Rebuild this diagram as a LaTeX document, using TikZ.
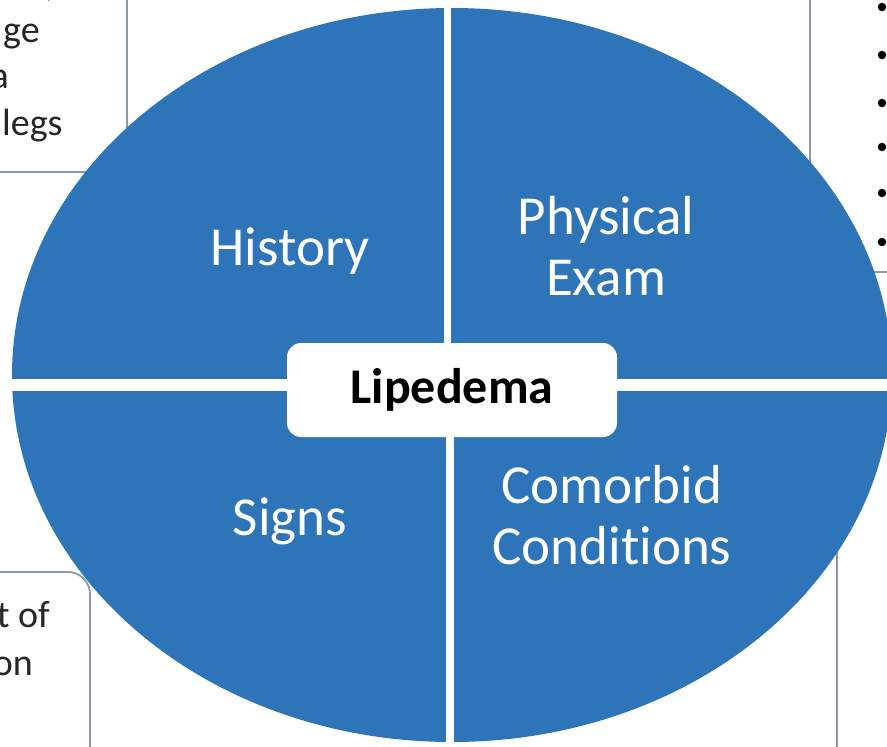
\documentclass[tikz,border=0pt]{standalone}
\usepackage{fontspec}
\setmainfont{Carlito}[Ligatures=CommonOff]
\usetikzlibrary{positioning}
\usetikzlibrary{shapes.geometric}
\definecolor{ovalblue}{RGB}{46,116,184}
\definecolor{boxgray}{RGB}{140,152,170}
\definecolor{sidegray}{RGB}{38,38,38}

\begin{document}
\begin{tikzpicture}[x=1pt, y=-1pt,
		sidebox/.style={draw=boxgray, line width=1.8pt, fill=white},
		sidetext/.style={text=sidegray, font=\fontsize{38}{46}\selectfont, inner sep=0pt, anchor=base west},
		part/.style={text=white, font=\fontsize{55}{61}\selectfont, align=center, inner sep=0pt}]
	\useasboundingbox (0,0) rectangle (887,747);

	% boxes behind the oval
	\draw[sidebox] (-60,-60) rectangle (127,172);
	\draw[sidebox, rounded corners=22pt] (-60,572) rectangle (90,820);
	\draw[sidebox] (810,-60) rectangle (960,272);
	\draw[sidebox] (837,400) rectangle (960,820);

	\node[sidetext] (tla) at (45,-4) {,};
	\node[sidetext] (tlb) at (3,42) {ge};
	\node[sidetext, anchor=base east] (tlc) at (9,88) {a};
	\node[sidetext] (tld) at (2,135) {legs};
	\node[sidetext, anchor=base east] (bla) at (50,627) {t of};
	\node[sidetext, anchor=base east] (blb) at (33,675) {on};
	\foreach \i/\y in {1/7, 2/55, 3/103, 4/147, 5/193, 6/242}
		\node[circle, fill=black, inner sep=0pt, minimum size=8.5pt] (dot\i) at (882,\y) {};

	% the oval and its four parts
	\node[ellipse, fill=ovalblue, inner sep=0pt, minimum width=880pt, minimum height=734pt] (oval) at (452,375) {};
	\draw[white, line width=7pt] (447,0) -- (447,380);
	\draw[white, line width=8pt] (450,380) -- (450,747);
	\draw[white, line width=12pt] (0,385) -- (887,385);

	\node[fill=white, rounded corners=14pt, minimum width=330pt, minimum height=94pt,
		font=\bfseries\fontsize{50}{60}\selectfont] (lip) at (452,390) {Lipedema};

	\node[part, anchor=base] (hist) at (290,265) {History};
	\node[part] (phys) at (606,246) {Physical\\Exam};
	\node[part, anchor=base] (signs) at (290,535) {Signs};
	\node[part] (comor) at (612,515) {Comorbid\\Conditions};
\end{tikzpicture}
\end{document}
